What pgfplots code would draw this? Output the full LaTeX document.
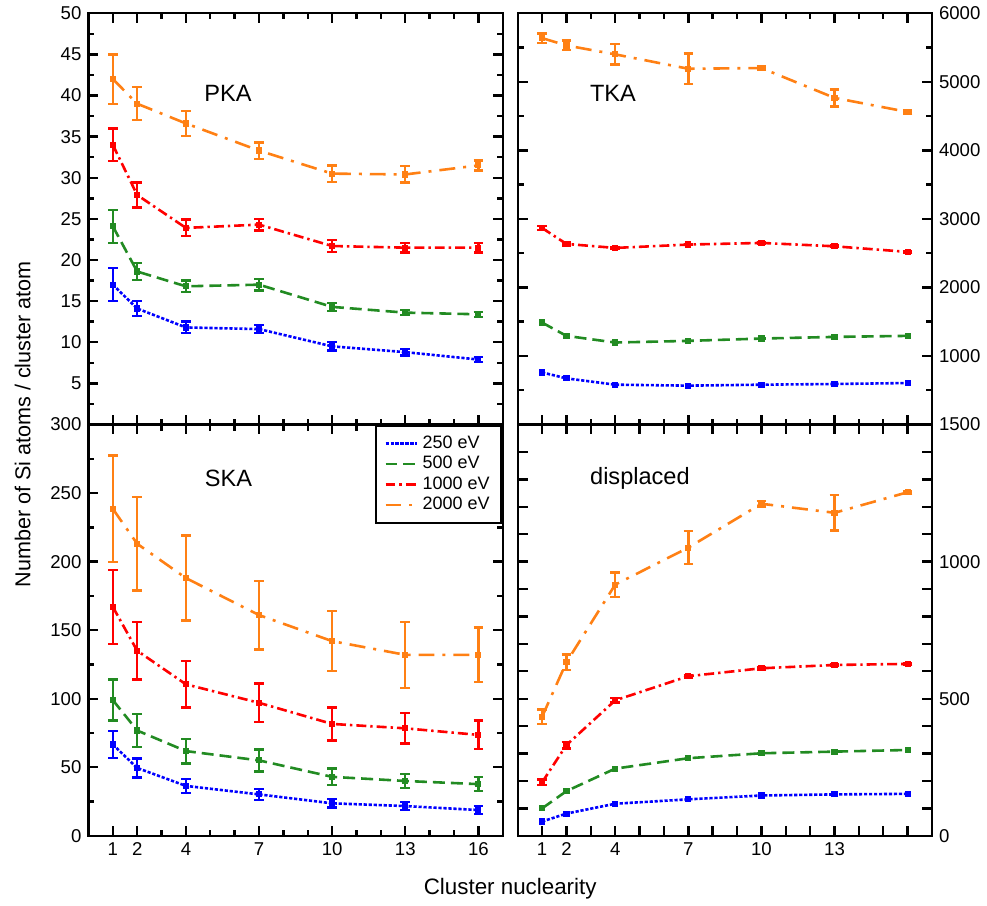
\documentclass[border={4pt 0pt 0pt 0pt}]{standalone}
\usepackage{fontspec}
\setmainfont{Liberation Sans}
\usepackage{pgfplots}
\pgfplotsset{compat=1.18}
\usepgfplotslibrary{groupplots}
\usetikzlibrary{calc}
\definecolor{cb}{RGB}{0,0,255}
\definecolor{cg}{RGB}{34,139,34}
\definecolor{cr}{RGB}{255,0,0}
\definecolor{co}{RGB}{255,128,20}
\pgfplotsset{
  s250/.style={cb, line width=1.3pt, dash pattern=on 1.6pt off 0.9pt, mark=square*, mark size=0.9pt, mark options={solid}},
  s500/.style={cg, line width=1.3pt, dash pattern=on 6pt off 3pt, mark=square*, mark size=0.9pt, mark options={solid}},
  s1000/.style={cr, line width=1.3pt, dash pattern=on 5pt off 2pt on 1.2pt off 2pt, mark=square*, mark size=0.9pt, mark options={solid}},
  s2000/.style={co, line width=1.3pt, dash pattern=on 8pt off 4pt on 1.5pt off 4pt, mark=square*, mark size=0.9pt, mark options={solid}},
  ebar/.style={error bars/.cd, y dir=both, y explicit,
    error bar style={solid, line width=1.2pt},
    error mark options={solid, rotate=90, mark size=2.4pt, line width=1.2pt}},
}
\begin{document}
\begin{tikzpicture}
\begin{groupplot}[
  group style={group size=2 by 2, horizontal sep=7.5pt, vertical sep=0pt},
  scale only axis, width=207.5pt, height=206pt,
  xmin=0, xmax=17,
  xtick={1,2,4,7,10,13,16},
  minor xtick={3,5,6,8,9,11,12,14,15},
  xtick pos=both, ytick pos=both, xticklabel pos=bottom,
  axis line style={line width=1.2pt},
  every tick/.style={line width=1.2pt, black},
  major tick length=5pt, minor tick length=3pt, tick align=inside,
  tick label style={font=\fontsize{9.3}{11}\selectfont},
  /pgf/number format/assume math mode=true,
  /pgf/number format/1000 sep={},
  scaled y ticks=false,
  legend image post style={mark=none},
]
% ---------- PKA ----------
\nextgroupplot[ymin=0, ymax=50, ytick={5,10,...,50}, minor ytick={2.5,7.5,...,47.5},
  xticklabels={}, yticklabel pos=left]
\addplot[s2000, ebar] coordinates {(1,42.0)+-(0,3.0) (2,39.0)+-(0,2.0) (4,36.6)+-(0,1.5) (7,33.3)+-(0,1.0) (10,30.5)+-(0,1.0) (13,30.4)+-(0,1.0) (16,31.5)+-(0,0.6)};
\addplot[s1000, ebar] coordinates {(1,34.0)+-(0,2.0) (2,27.9)+-(0,1.5) (4,23.9)+-(0,1.0) (7,24.3)+-(0,0.7) (10,21.7)+-(0,0.7) (13,21.5)+-(0,0.6) (16,21.5)+-(0,0.6)};
\addplot[s500, ebar] coordinates {(1,24.1)+-(0,2.0) (2,18.6)+-(0,1.0) (4,16.8)+-(0,0.7) (7,17.0)+-(0,0.7) (10,14.3)+-(0,0.5) (13,13.6)+-(0,0.3) (16,13.4)+-(0,0.3)};
\addplot[s250, ebar] coordinates {(1,17.0)+-(0,2.0) (2,14.1)+-(0,0.9) (4,11.8)+-(0,0.7) (7,11.6)+-(0,0.5) (10,9.5)+-(0,0.5) (13,8.8)+-(0,0.4) (16,7.9)+-(0,0.3)};
\node[font=\fontsize{11.8}{14}\selectfont] at (rel axis cs:0.337,0.805) {PKA};
% ---------- TKA ----------
\nextgroupplot[ymin=0, ymax=6000, ytick={1000,2000,...,6000}, minor ytick={500,1500,...,5500},
  xticklabels={}, yticklabel pos=right]
\addplot[s2000, ebar] coordinates {(1,5637)+-(0,70) (2,5530)+-(0,70) (4,5400)+-(0,150) (7,5190)+-(0,220) (10,5200)+-(0,20) (13,4765)+-(0,125) (16,4560)+-(0,20)};
\addplot[s1000, ebar] coordinates {(1,2867)+-(0,30) (2,2634)+-(0,20) (4,2576)+-(0,15) (7,2625)+-(0,10) (10,2649)+-(0,10) (13,2600)+-(0,10) (16,2518)+-(0,10)};
\addplot[s500] coordinates {(1,1487) (2,1293) (4,1196) (7,1220) (10,1254) (13,1278) (16,1293)};
\addplot[s250] coordinates {(1,760) (2,673) (4,581) (7,567) (10,581) (13,591) (16,605)};
\node[font=\fontsize{11.8}{14}\selectfont] at (rel axis cs:0.23,0.805) {TKA};
% ---------- SKA ----------
\nextgroupplot[ymin=0, ymax=300, ytick={0,50,...,300}, minor ytick={25,75,...,275},
  yticklabel pos=left,
  legend style={at={(1,1)}, anchor=north east, draw=black, line width=1.2pt,
    font=\fontsize{9}{10.5}\selectfont, cells={anchor=west}, inner xsep=4pt, inner ysep=3pt,
    row sep=-1.5pt},
  legend cell align=left,
  legend image code/.code={\draw[#1, mark=none] (0cm,0cm) -- (0.56cm,0cm);},
  ]
\addplot[s250, ebar] coordinates {(1,66.6)+-(0,10) (2,49.5)+-(0,7) (4,36.4)+-(0,5) (7,30.2)+-(0,4) (10,23.7)+-(0,3) (13,21.7)+-(0,3) (16,18.8)+-(0,3)};
\addlegendentry{250 eV}
\addplot[s500, ebar] coordinates {(1,99)+-(0,15) (2,76.8)+-(0,12) (4,61.8)+-(0,9) (7,55)+-(0,8) (10,43)+-(0,6) (13,40)+-(0,5) (16,37.7)+-(0,5)};
\addlegendentry{500 eV}
\addplot[s1000, ebar] coordinates {(1,167)+-(0,27) (2,135)+-(0,21) (4,110.5)+-(0,17) (7,97)+-(0,14) (10,81.6)+-(0,12) (13,78.4)+-(0,11) (16,73.6)+-(0,10.5)};
\addlegendentry{1000 eV}
\addplot[s2000, ebar] coordinates {(1,238.5)+-(0,39) (2,213)+-(0,34) (4,188)+-(0,31) (7,161)+-(0,25) (10,142)+-(0,22) (13,132)+-(0,24) (16,132)+-(0,20)};
\addlegendentry{2000 eV}
\node[font=\fontsize{11.8}{14}\selectfont] at (rel axis cs:0.338,0.87) {SKA};
% ---------- displaced ----------
\nextgroupplot[ymin=0, ymax=1500, ytick={0,500,1000,1500},
  minor ytick={100,200,300,400,600,700,800,900,1100,1200,1300,1400},
  minor tick length=5pt,
  xticklabels={1,2,4,7,10,13,}, yticklabel pos=right]
\addplot[s2000, ebar] coordinates {(1,434)+-(0,27) (2,633)+-(0,28) (4,916)+-(0,44) (7,1051)+-(0,60) (10,1211)+-(0,10) (13,1178)+-(0,64) (16,1253)+-(0,5)};
\addplot[s1000, ebar] coordinates {(1,195)+-(0,10) (2,331)+-(0,12) (4,494)+-(0,8) (7,582)+-(0,5) (10,611)+-(0,5) (13,623)+-(0,4) (16,627)+-(0,4)};
\addplot[s500] coordinates {(1,100) (2,163) (4,245) (7,283) (10,301) (13,307) (16,313)};
\addplot[s250] coordinates {(1,52) (2,81) (4,117) (7,133) (10,147) (13,151) (16,153)};
\node[font=\fontsize{11.8}{14}\selectfont] at (rel axis cs:0.295,0.87) {displaced};
\end{groupplot}
\node[anchor=base, font=\fontsize{11.2}{13}\selectfont] at ($(group c1r2.south east)!0.5!(group c2r2.south west)+(0,-29.5pt)$) {Cluster nuclearity};
\node[rotate=90, font=\fontsize{10.8}{13}\selectfont] at ($(group c1r1.south west)+(-33pt,0)$) {Number of Si atoms / cluster atom};
\end{tikzpicture}
\end{document}
